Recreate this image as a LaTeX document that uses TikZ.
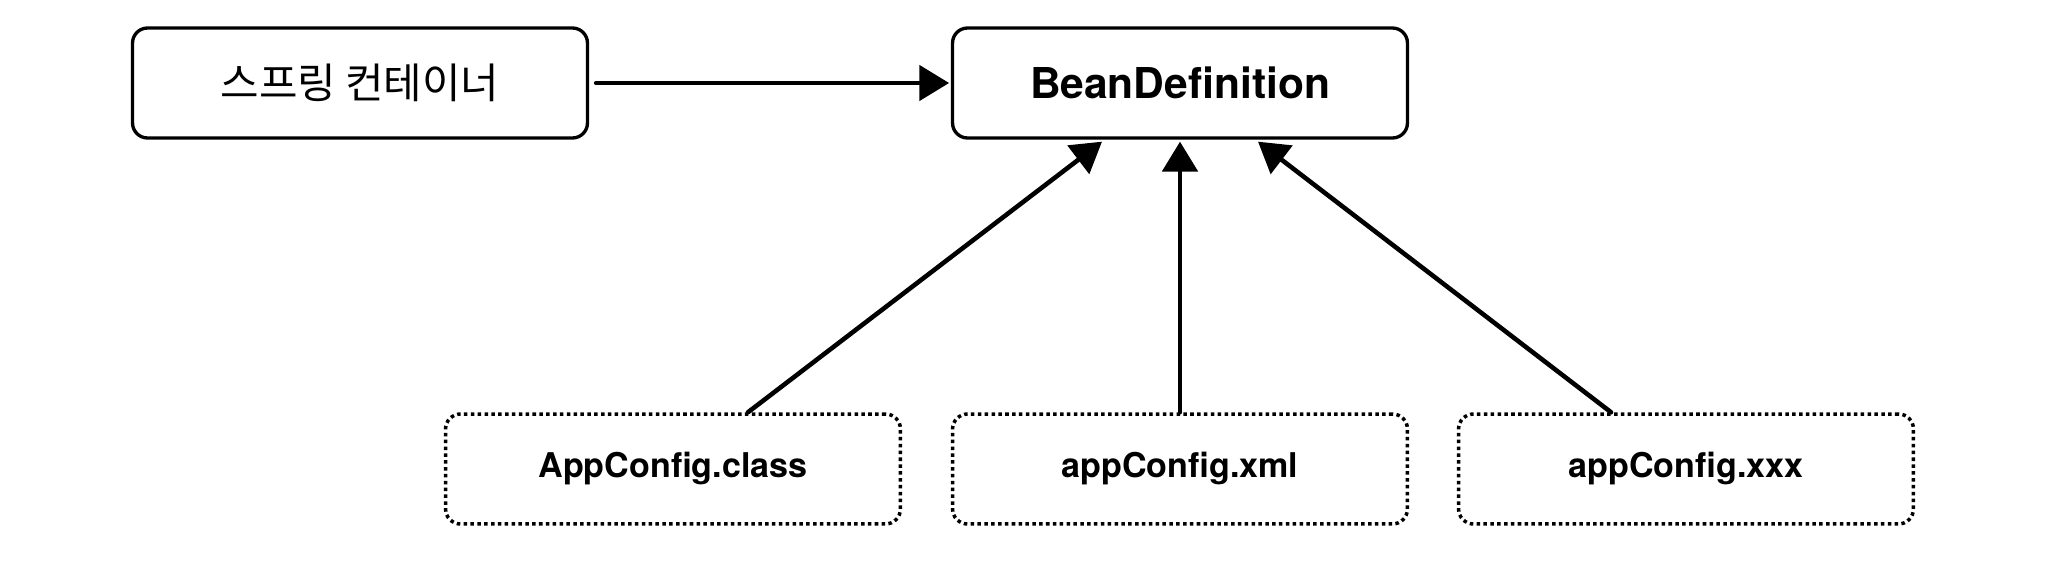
\documentclass[tikz,border=0pt]{standalone}
\usepackage{fontspec}
\setmainfont{TeX Gyre Heros}
\newfontfamily\kofont{Noto Sans CJK KR}
\usetikzlibrary{calc,arrows.meta}

\begin{document}
\begin{tikzpicture}[x=0.02cm, y=-0.02cm, line join=round, line cap=round,
    box/.style={draw, line width=1.9pt, rounded corners=0.3cm, minimum width=9.1cm, minimum height=2.2cm, inner sep=0pt},
    dotbox/.style={box, line width=2pt, line cap=butt, dash pattern=on 2pt off 1.9pt},
    arr/.style={line width=2.6pt, -{Triangle[width=20pt, length=17pt]}}]
        \useasboundingbox (0,0) rectangle (2050,588);
        % 위쪽 상자
        \node[box] (cont) at (360,83) {\kofont\fontsize{23.8pt}{29pt}\selectfont 스프링 컨테이너};
        \node[box] (bean) at (1180,83) {\bfseries\fontsize{24.2pt}{29pt}\selectfont BeanDefinition};
        
        % 아래쪽 설정 파일 상자
        \node[dotbox] (cls) at (673,469) {\bfseries\fontsize{19.4pt}{23pt}\selectfont AppConfig.class};
        \node[dotbox] (xml) at (1180,469) {\bfseries\fontsize{19.4pt}{23pt}\selectfont appConfig.xml};
        \node[dotbox] (xxx) at (1686,469) {\bfseries\fontsize{19.4pt}{23pt}\selectfont appConfig.xxx};
        
        % 화살표
        \draw[arr, shorten <=4pt, shorten >=1pt] (cont) -- (bean);
        \draw[arr] ($(cls.north)+(75,0)$) -- ($(bean.south)+(-78,2)$);
        \draw[arr] (xml.north) -- ($(bean.south)+(0,2)$);
        \draw[arr] ($(xxx.north)+(-75,0)$) -- ($(bean.south)+(78,2)$);
    \end{tikzpicture}
\end{document}
